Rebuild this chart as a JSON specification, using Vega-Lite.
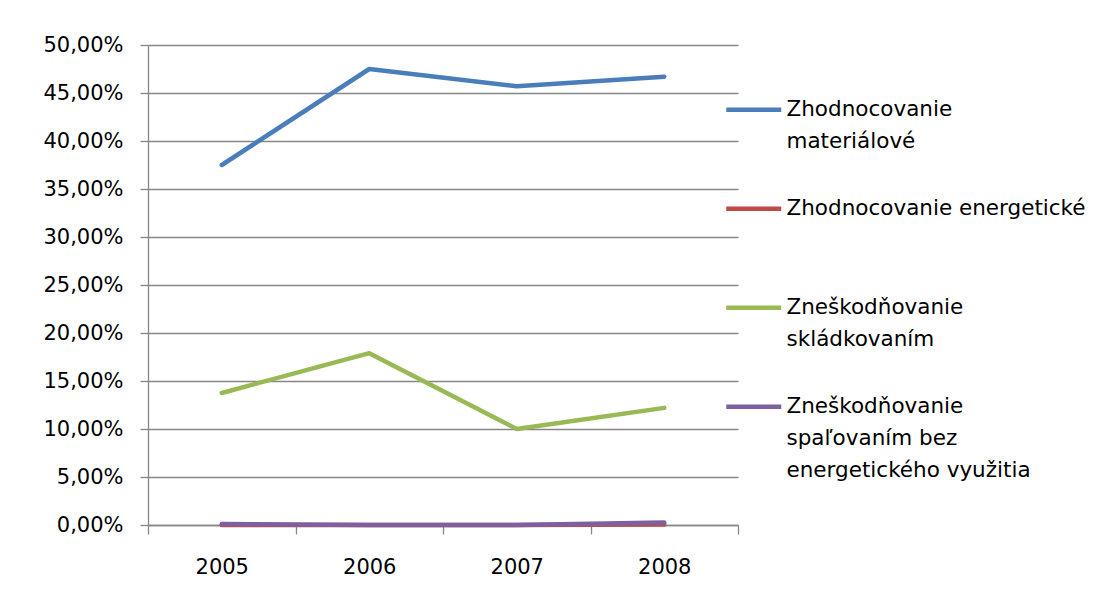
{
  "$schema": "https://vega.github.io/schema/vega-lite/v6.json",
  "width": 590,
  "height": 480,
  "autosize": {"type": "none"},
  "padding": {"left": 148, "top": 45, "right": 355, "bottom": 81},
  "background": "white",
  "data": {
    "values": [
      {"rok": "2005", "seria": "Zhodnocovanie materiálové", "podiel": 0.375},
      {"rok": "2006", "seria": "Zhodnocovanie materiálové", "podiel": 0.475},
      {"rok": "2007", "seria": "Zhodnocovanie materiálové", "podiel": 0.457},
      {"rok": "2008", "seria": "Zhodnocovanie materiálové", "podiel": 0.467},
      {"rok": "2005", "seria": "Zhodnocovanie energetické", "podiel": 0.0},
      {"rok": "2006", "seria": "Zhodnocovanie energetické", "podiel": 0.0},
      {"rok": "2007", "seria": "Zhodnocovanie energetické", "podiel": 0.0},
      {"rok": "2008", "seria": "Zhodnocovanie energetické", "podiel": 0.0005},
      {"rok": "2005", "seria": "Zneškodňovanie skládkovaním", "podiel": 0.1375},
      {"rok": "2006", "seria": "Zneškodňovanie skládkovaním", "podiel": 0.179},
      {"rok": "2007", "seria": "Zneškodňovanie skládkovaním", "podiel": 0.1},
      {"rok": "2008", "seria": "Zneškodňovanie skládkovaním", "podiel": 0.122},
      {"rok": "2005", "seria": "Zneškodňovanie spaľovaním bez energetického využitia", "podiel": 0.001},
      {"rok": "2006", "seria": "Zneškodňovanie spaľovaním bez energetického využitia", "podiel": 0.0},
      {"rok": "2007", "seria": "Zneškodňovanie spaľovaním bez energetického využitia", "podiel": 0.0},
      {"rok": "2008", "seria": "Zneškodňovanie spaľovaním bez energetického využitia", "podiel": 0.0025}
    ]
  },
  "mark": {"type": "line", "strokeWidth": 4.5, "strokeCap": "round", "strokeJoin": "round"},
  "encoding": {
    "x": {
      "field": "rok",
      "type": "ordinal",
      "scale": {"type": "band", "paddingInner": 0, "paddingOuter": 0},
      "axis": {
        "title": null,
        "tickBand": "extent",
        "grid": false,
        "labelAngle": 0,
        "tickSize": 9,
        "labelPadding": 22,
        "labelBaseline": "top"
      }
    },
    "y": {
      "field": "podiel",
      "type": "quantitative",
      "scale": {"domain": [0, 0.5], "nice": false, "zero": true},
      "axis": {
        "title": null,
        "values": [0, 0.05, 0.1, 0.15, 0.2, 0.25, 0.3, 0.35, 0.4, 0.45, 0.5],
        "labelExpr": "replace(format(datum.value, '.2%'), '.', ',')",
        "tickSize": 8,
        "labelPadding": 17,
        "grid": true
      }
    },
    "color": {
      "field": "seria",
      "type": "nominal",
      "scale": {
        "domain": [
          "Zhodnocovanie materiálové",
          "Zhodnocovanie energetické",
          "Zneškodňovanie skládkovaním",
          "Zneškodňovanie spaľovaním bez energetického využitia"
        ],
        "range": ["#4A7EBB", "#BE4B48", "#98B954", "#7D60A0"]
      },
      "legend": {
        "title": null,
        "orient": "none",
        "legendX": 595,
        "legendY": 54,
        "padding": 0,
        "symbolType": "M-5,0H5",
        "symbolSize": 121,
        "symbolStrokeWidth": 4.5,
        "labelLimit": 600,
        "labelOffset": 22,
        "labelBaseline": "middle",
        "rowPadding": 12,
        "labelExpr": "datum.label == 'Zhodnocovanie materiálové' ? ['Zhodnocovanie', 'materiálové', ''] : datum.label == 'Zhodnocovanie energetické' ? ['Zhodnocovanie energetické', '', ''] : datum.label == 'Zneškodňovanie skládkovaním' ? ['Zneškodňovanie', 'skládkovaním', ''] : ['Zneškodňovanie', 'spaľovaním bez', 'energetického využitia']"
      }
    }
  },
  "config": {
    "font": "DejaVu Sans",
    "view": {"stroke": null},
    "style": {"guide-label": {"lineHeight": 32}},
    "axis": {
      "domainColor": "#868686",
      "domainWidth": 1.3,
      "tickColor": "#868686",
      "tickWidth": 1.3,
      "gridColor": "#868686",
      "gridWidth": 1.3,
      "gridOpacity": 1,
      "labelColor": "#000000",
      "labelFont": "DejaVu Sans",
      "labelFontSize": 21
    },
    "legend": {
      "labelColor": "#000000",
      "labelFont": "DejaVu Sans",
      "labelFontSize": 21.5
    }
  }
}
